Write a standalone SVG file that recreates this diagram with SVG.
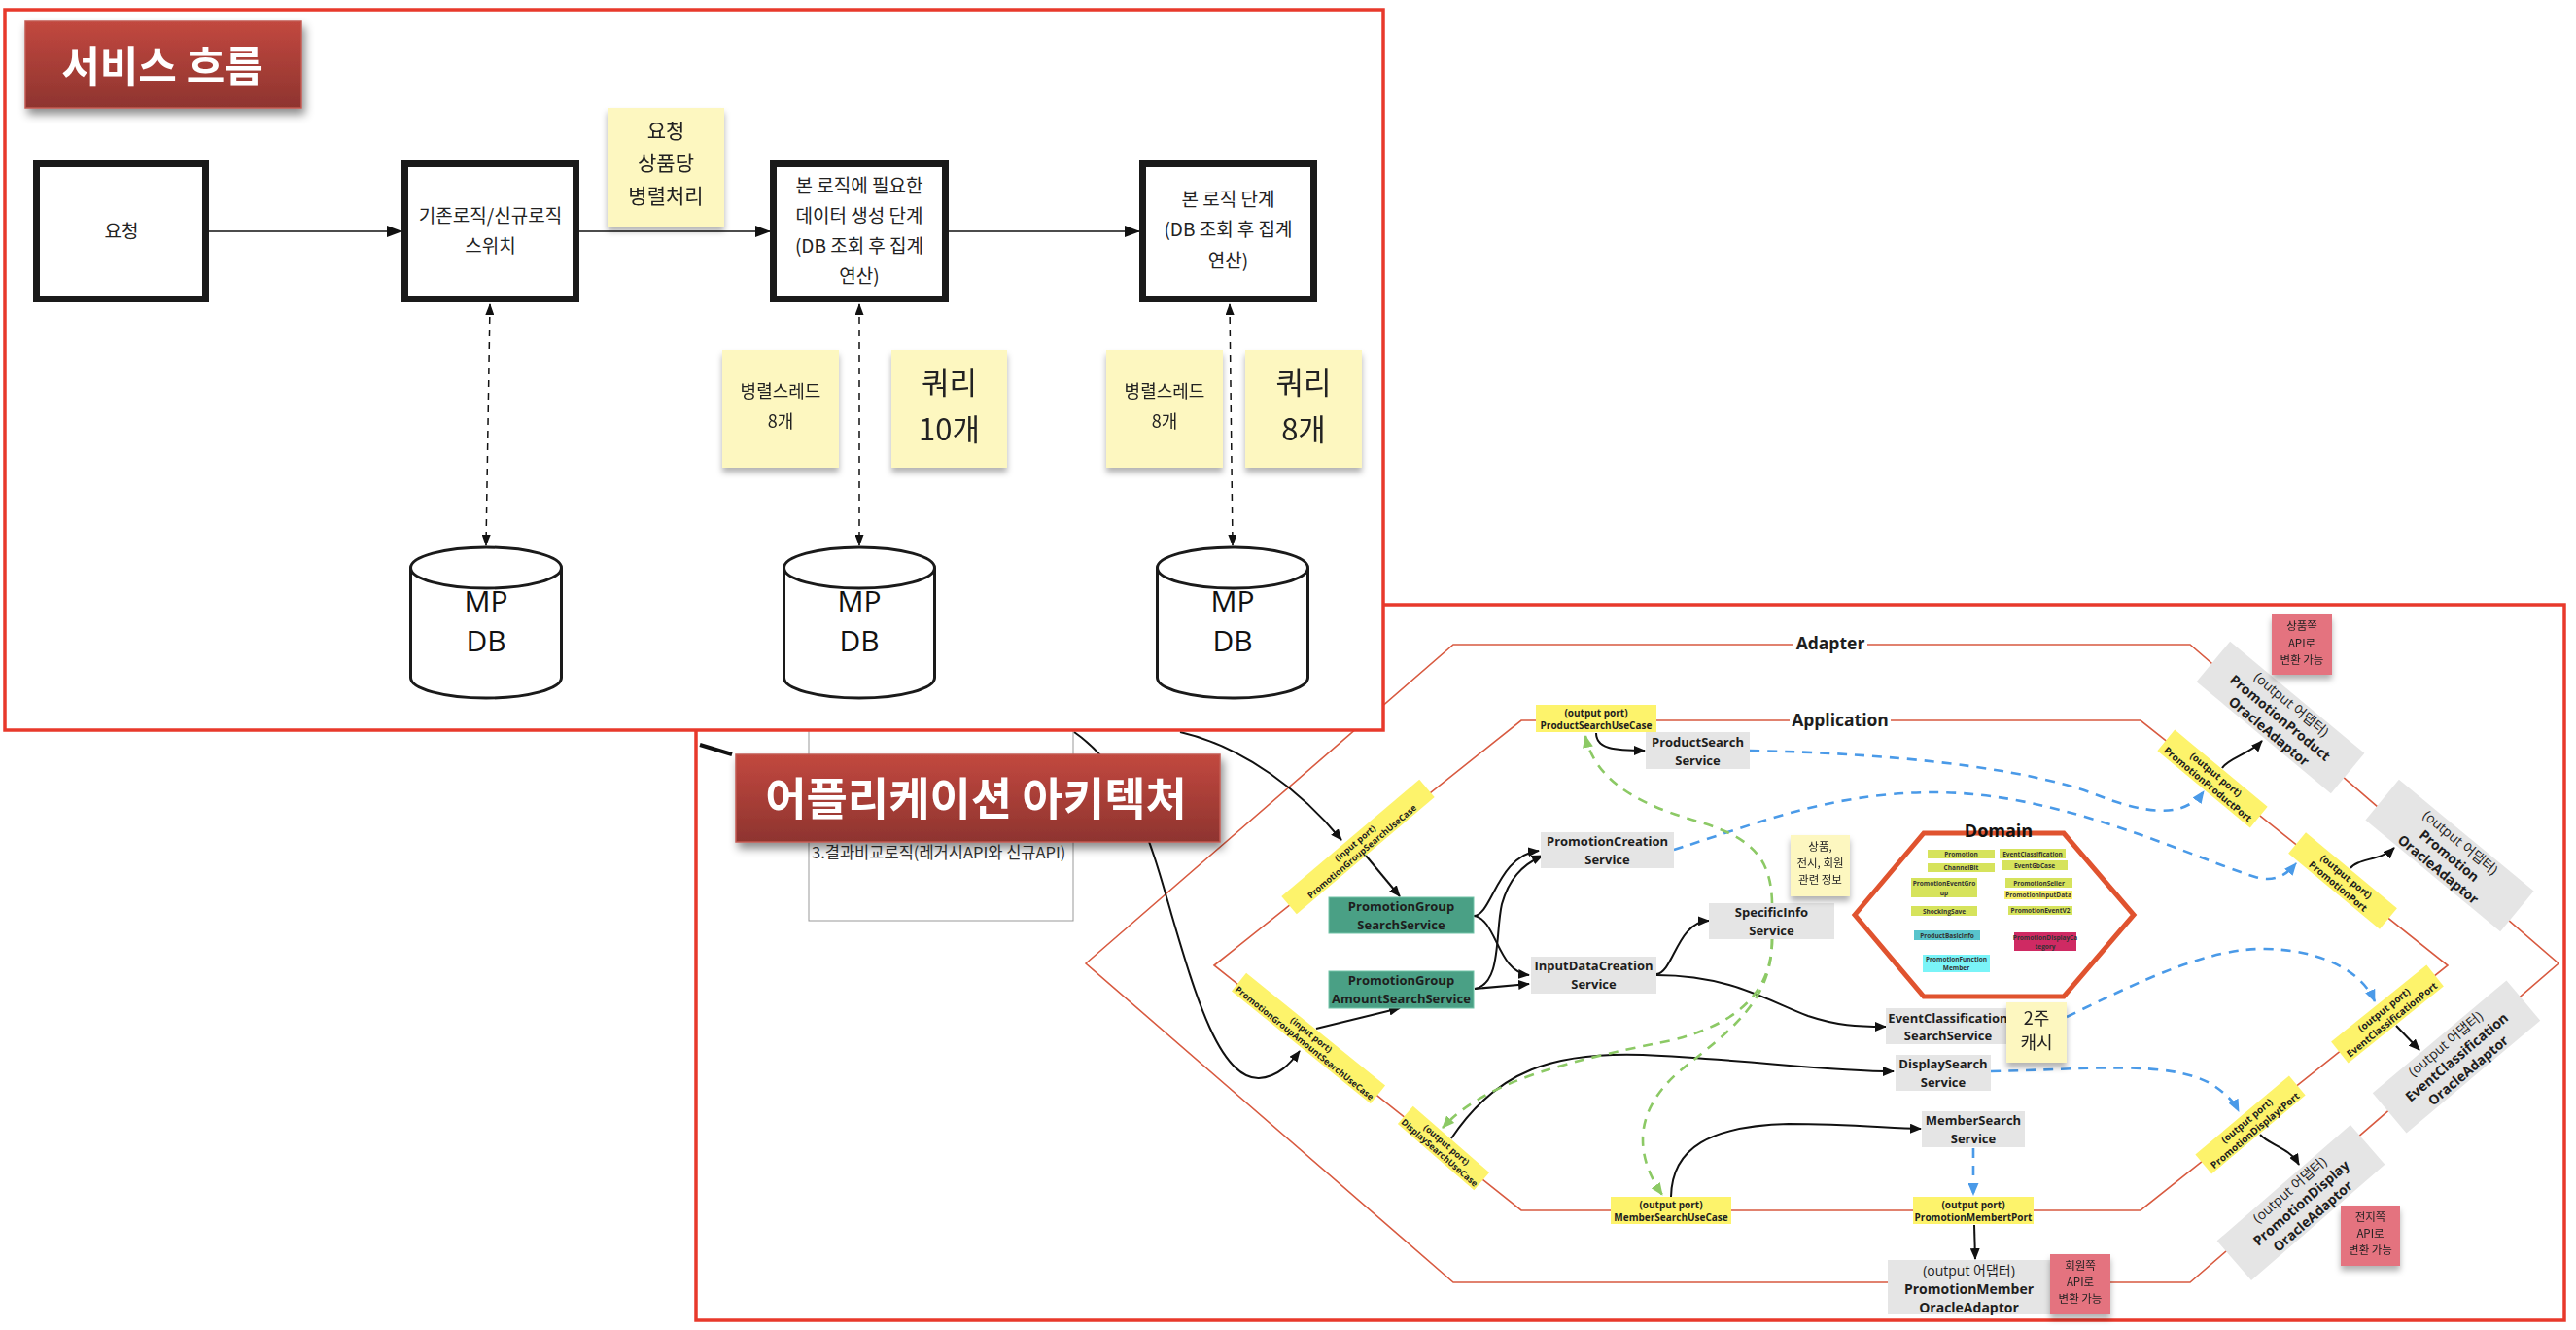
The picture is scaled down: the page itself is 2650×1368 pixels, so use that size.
<svg xmlns="http://www.w3.org/2000/svg" width="2650" height="1368" viewBox="0 0 2650 1368">
<defs>
<style>
.frame{fill:#fff;stroke:#e8392b;stroke-width:3.5}
.hex{fill:none;stroke:#d85a40;stroke-width:1.6}
.box{fill:#fff;stroke:#1a1a1a;stroke-width:7}
.cyl{fill:#fff;stroke:#1a1a1a;stroke-width:3}
.kr{font-family:'Noto Sans CJK KR','Noto Sans',sans-serif;fill:#222;text-anchor:middle;dominant-baseline:central}
.en{font-family:'Open Sans','Noto Sans CJK KR',sans-serif;fill:#1e1e1e;text-anchor:middle;dominant-baseline:central}
.b{font-weight:bold}
.sticky{fill:#fdf7c0}
.pink{fill:#e4737f}
.port{fill:#fdf36b}
.svc{fill:#e5e5e5}
.teal{fill:#4aa085;stroke:#72c4a8;stroke-width:1}
.ln{fill:none;stroke:#111;stroke-width:2}
.lnT{fill:none;stroke:#111;stroke-width:1.6}
.dv{fill:none;stroke:#111;stroke-width:1.5;stroke-dasharray:7 6}
.blue{fill:none;stroke:#4a9ae8;stroke-width:2.6;stroke-dasharray:10 8}
.green{fill:none;stroke:#8cc965;stroke-width:2.6;stroke-dasharray:10 8}
.dom{stroke:none}
.tiny{font-family:'Open Sans',sans-serif;font-weight:bold;font-size:6.5px;fill:#333;text-anchor:middle;dominant-baseline:central}
</style>
<linearGradient id="tg" x1="0" y1="0" x2="0" y2="1">
<stop offset="0" stop-color="#c2483f"/>
<stop offset="1" stop-color="#8e342f"/>
</linearGradient>
<filter id="sh" x="-20%" y="-20%" width="150%" height="160%">
<feDropShadow dx="3" dy="6" stdDeviation="5" flood-color="#000" flood-opacity="0.45"/>
</filter>
<filter id="ssh" x="-10%" y="-10%" width="120%" height="130%">
<feDropShadow dx="0" dy="5" stdDeviation="3" flood-color="#000" flood-opacity="0.3"/>
</filter>
<marker id="ah" viewBox="0 0 12 10" refX="11" refY="5" markerWidth="12" markerHeight="10" markerUnits="userSpaceOnUse" orient="auto"><path d="M0,0 L12,5 L0,10 Z" fill="#111"/></marker>
<marker id="ahL" viewBox="0 0 16 12" refX="15" refY="6" markerWidth="16" markerHeight="12" markerUnits="userSpaceOnUse" orient="auto"><path d="M0,0 L16,6 L0,12 Z" fill="#111"/></marker>
<marker id="ahD" viewBox="0 0 12 9" refX="11" refY="4.5" markerWidth="12" markerHeight="9" markerUnits="userSpaceOnUse" orient="auto-start-reverse"><path d="M0,0 L12,4.5 L0,9 Z" fill="#111"/></marker>
<marker id="ahB" viewBox="0 0 13 11" refX="12" refY="5.5" markerWidth="13" markerHeight="11" markerUnits="userSpaceOnUse" orient="auto"><path d="M0,0 L13,5.5 L0,11 Z" fill="#4a9ae8"/></marker>
<marker id="ahG" viewBox="0 0 13 11" refX="12" refY="5.5" markerWidth="13" markerHeight="11" markerUnits="userSpaceOnUse" orient="auto"><path d="M0,0 L13,5.5 L0,11 Z" fill="#8cc965"/></marker>
</defs>

<!-- ===== Application architecture frame ===== -->
<g id="arch-frame">
<rect class="frame" x="716" y="622" width="1922" height="736"/>
<rect x="832" y="700" width="272" height="247" fill="#fff" stroke="#999" stroke-width="1"/>
<text x="835" y="876" font-family="'Noto Sans CJK KR',sans-serif" font-size="16.5" fill="#333" dominant-baseline="central">3.결과비교로직(레거시API와 신규API)</text>
<line x1="720" y1="766" x2="753" y2="776" stroke="#111" stroke-width="4"/>
</g>

<g id="hexagons">
<polygon class="hex" points="1117,991 1495,663 2253,663 2632,991 2253,1319 1495,1319"/>
<polygon class="hex" points="1249,993 1565,741 2202,741 2518,993 2202,1245 1565,1245"/>
<rect x="1845" y="650" width="76" height="24" fill="#fff"/>
<text x="1883" y="668" font-family="'Open Sans',sans-serif" font-weight="bold" font-size="17.5" fill="#1e1e1e" text-anchor="middle">Adapter</text>
<rect x="1841" y="729" width="104" height="24" fill="#fff"/>
<text x="1893" y="747" font-family="'Open Sans',sans-serif" font-weight="bold" font-size="17.5" fill="#1e1e1e" text-anchor="middle">Application</text>
</g>

<g id="connectors">
<path class="ln" d="M1214,753 C1280,768 1340,815 1380,864" marker-end="url(#ah)"/>
<path class="ln" d="M1105,753 C1165,795 1185,870 1205,940 C1230,1025 1255,1110 1295,1109 C1315,1108 1328,1093 1337,1081" marker-end="url(#ah)"/>
<path class="ln" d="M1405,880 L1440,922" marker-end="url(#ah)"/>
<path class="ln" d="M1354,1058 L1440,1037" marker-end="url(#ah)"/>
<path class="ln" d="M1516,942 C1535,942 1540,880 1583,875" marker-end="url(#ah)"/>
<path class="ln" d="M1516,942 C1540,945 1540,1000 1573,1003" marker-end="url(#ah)"/>
<path class="ln" d="M1517,1017 C1545,1012 1538,960 1545,930 C1552,905 1565,890 1587,880" marker-end="url(#ah)"/>
<path class="ln" d="M1517,1017 L1573,1012" marker-end="url(#ah)"/>
<path class="ln" d="M1642,754 C1642,770 1660,772 1692,772" marker-end="url(#ah)"/>
<path class="ln" d="M1704,1002 C1722,1000 1725,948 1758,947" marker-end="url(#ah)"/>
<path class="ln" d="M1704,1003 C1780,1003 1820,1030 1860,1045 C1890,1055 1910,1056 1940,1056" marker-end="url(#ah)"/>
<path class="ln" d="M1493,1171 C1540,1100 1600,1082 1690,1085 C1800,1090 1880,1102 1948,1102" marker-end="url(#ah)"/>
<path class="ln" d="M1719,1231 C1720,1180 1760,1158 1840,1156 C1900,1156 1940,1160 1976,1161" marker-end="url(#ah)"/>
<path class="ln" d="M2031,1260 L2032,1295" marker-end="url(#ah)"/>
<path class="ln" d="M2286,790 C2292,780 2315,775 2327,762" marker-end="url(#ah)"/>
<path class="ln" d="M2418,893 C2425,883 2450,885 2463,872" marker-end="url(#ah)"/>
<path class="ln" d="M2465,1055 L2489,1080" marker-end="url(#ah)"/>
<path class="ln" d="M2325,1167 C2335,1178 2355,1180 2365,1198" marker-end="url(#ah)"/>
<path class="blue" d="M1800,772 C1950,775 2080,790 2150,815 C2200,835 2245,845 2267,814" marker-end="url(#ahB)"/>
<path class="blue" d="M1722,874 C1800,850 1880,815 1990,815 C2120,815 2250,880 2320,902 C2340,908 2352,900 2362,888" marker-end="url(#ahB)"/>
<path class="blue" d="M2126,1046 C2200,1010 2270,975 2330,976 C2390,977 2430,1000 2443,1030" marker-end="url(#ahB)"/>
<path class="blue" d="M2048,1102 C2150,1100 2230,1090 2275,1115 C2290,1125 2298,1133 2303,1143" marker-end="url(#ahB)"/>
<path class="blue" d="M2030,1181 L2030,1229" marker-end="url(#ahB)"/>
<path class="green" d="M1823,929 C1822,880 1800,860 1740,843 C1680,825 1640,800 1631,757" marker-end="url(#ahG)"/>
<path class="green" d="M1823,966 C1823,1010 1800,1050 1720,1070 C1620,1090 1530,1110 1484,1160" marker-end="url(#ahG)"/>
<path class="green" d="M1823,966 C1823,1030 1780,1060 1730,1100 C1670,1150 1690,1200 1710,1229" marker-end="url(#ahG)"/>
</g>

<!-- ports -->
<g id="port-input-search" transform="translate(1397,871) rotate(-40.3)">
<rect class="port" x="-93" y="-12" width="186" height="24"/>
<text class="en b" y="-5" font-size="9">(input port)</text>
<text class="en b" y="6" font-size="9">PromotionGroupSearchUseCase</text>
</g>
<g id="port-input-amount" transform="translate(1346,1068) rotate(39)">
<rect class="port" x="-92" y="-12" width="184" height="24"/>
<text class="en b" y="-5" font-size="9">(input port)</text>
<text class="en b" y="6" font-size="9">PromotionGroupAmountSearchUseCase</text>
</g>
<g id="port-display-usecase" transform="translate(1485,1181) rotate(41)">
<rect class="port" x="-52" y="-12" width="104" height="24"/>
<text class="en b" y="-5" font-size="9">(output port)</text>
<text class="en b" y="6" font-size="9">DisplaySearchUseCase</text>
</g>
<g id="port-product-usecase">
<rect class="port" x="1580" y="725" width="124" height="28"/>
<text class="en b" x="1642" y="733" font-size="10">(output port)</text>
<text class="en b" x="1642" y="746" font-size="10">ProductSearchUseCase</text>
</g>
<g id="port-member-usecase">
<rect class="port" x="1657" y="1231" width="124" height="28"/>
<text class="en b" x="1719" y="1239" font-size="10">(output port)</text>
<text class="en b" x="1719" y="1252" font-size="10">MemberSearchUseCase</text>
</g>
<g id="port-member">
<rect class="port" x="1968" y="1231" width="124" height="28"/>
<text class="en b" x="2030" y="1239" font-size="10">(output port)</text>
<text class="en b" x="2030" y="1252" font-size="10">PromotionMembertPort</text>
</g>
<g id="port-product" transform="translate(2276,801) rotate(39.7)">
<rect class="port" x="-62" y="-14" width="124" height="28"/>
<text class="en b" y="-6" font-size="10">(output port)</text>
<text class="en b" y="7" font-size="10">PromotionProductPort</text>
</g>
<g id="port-promotion" transform="translate(2410,906) rotate(39.7)">
<rect class="port" x="-61" y="-14" width="122" height="28"/>
<text class="en b" y="-6" font-size="10">(output port)</text>
<text class="en b" y="7" font-size="10">PromotionPort</text>
</g>
<g id="port-eventclass" transform="translate(2456,1043) rotate(-38.8)">
<rect class="port" x="-63" y="-14" width="126" height="28"/>
<text class="en b" y="-6" font-size="10">(output port)</text>
<text class="en b" y="7" font-size="10">EventClassificationPort</text>
</g>
<g id="port-display" transform="translate(2315,1157) rotate(-40)">
<rect class="port" x="-63" y="-13" width="126" height="26"/>
<text class="en b" y="-6" font-size="10">(output port)</text>
<text class="en b" y="7" font-size="10">PromotionDisplaytPort</text>
</g>

<!-- services -->
<g id="svc-group-search">
<rect class="teal" x="1367" y="923" width="149" height="37"/>
<text class="en b" x="1441.5" y="932" font-size="13">PromotionGroup</text>
<text class="en b" x="1441.5" y="951" font-size="13">SearchService</text>
</g>
<g id="svc-group-amount">
<rect class="teal" x="1367" y="999" width="149" height="38"/>
<text class="en b" x="1441.5" y="1008" font-size="13">PromotionGroup</text>
<text class="en b" x="1441.5" y="1027" font-size="13">AmountSearchService</text>
</g>
<g id="svc-product">
<rect class="svc" x="1693" y="753" width="107" height="38"/>
<text class="en b" x="1746.5" y="763" font-size="13">ProductSearch</text>
<text class="en b" x="1746.5" y="782" font-size="13">Service</text>
</g>
<g id="svc-creation">
<rect class="svc" x="1585" y="856" width="137" height="37"/>
<text class="en b" x="1653.5" y="865" font-size="13">PromotionCreation</text>
<text class="en b" x="1653.5" y="884" font-size="13">Service</text>
</g>
<g id="svc-specific">
<rect class="svc" x="1758" y="929" width="129" height="37"/>
<text class="en b" x="1822.5" y="938" font-size="13">SpecificInfo</text>
<text class="en b" x="1822.5" y="957" font-size="13">Service</text>
</g>
<g id="svc-input">
<rect class="svc" x="1575" y="984" width="129" height="38"/>
<text class="en b" x="1639.5" y="993" font-size="13">InputDataCreation</text>
<text class="en b" x="1639.5" y="1012" font-size="13">Service</text>
</g>
<g id="svc-eventclass">
<rect class="svc" x="1940" y="1037" width="124" height="37"/>
<text class="en b" x="2004" y="1047" font-size="13">EventClassification</text>
<text class="en b" x="2004" y="1065" font-size="13">SearchService</text>
</g>
<g id="svc-display">
<rect class="svc" x="1950" y="1085" width="98" height="37"/>
<text class="en b" x="1999" y="1094" font-size="13">DisplaySearch</text>
<text class="en b" x="1999" y="1113" font-size="13">Service</text>
</g>
<g id="svc-member">
<rect class="svc" x="1977" y="1143" width="106" height="37"/>
<text class="en b" x="2030" y="1152" font-size="13">MemberSearch</text>
<text class="en b" x="2030" y="1171" font-size="13">Service</text>
</g>

<!-- domain -->
<g id="domain">
<polygon points="1908,941 1979,857 2123,857 2195,941 2123,1025 1979,1025" fill="#fff" stroke="#e0532f" stroke-width="5"/>
<text x="2056" y="861" font-family="'Open Sans',sans-serif" font-weight="bold" font-size="18" fill="#111" text-anchor="middle">Domain</text>
<rect class="dom" x="1983" y="874" width="69" height="9" fill="#d6e35c"/><text class="tiny" x="2017.5" y="878.5">Promotion</text>
<rect class="dom" x="2057" y="873" width="68" height="10" fill="#d6e35c"/><text class="tiny" x="2091" y="878">EventClassification</text>
<rect class="dom" x="1983" y="888" width="69" height="9" fill="#d6e35c"/><text class="tiny" x="2017.5" y="892.5">ChannelBit</text>
<rect class="dom" x="2059" y="885" width="68" height="10" fill="#d6e35c"/><text class="tiny" x="2093" y="890">EventGbCase</text>
<rect class="dom" x="1966" y="903" width="68" height="20" fill="#d6e35c"/><text class="tiny" x="2000" y="908">PromotionEventGro</text><text class="tiny" x="2000" y="918">up</text>
<rect class="dom" x="2063" y="903" width="69" height="10" fill="#d6e35c"/><text class="tiny" x="2097.5" y="908">PromotionSeller</text>
<rect class="dom" x="2062" y="916" width="70" height="9" fill="#f7ef6a"/><text class="tiny" x="2097" y="920.5">PromotionInputData</text>
<rect class="dom" x="1966" y="932" width="68" height="10" fill="#d6e35c"/><text class="tiny" x="2000" y="937">ShockingSave</text>
<rect class="dom" x="2066" y="932" width="66" height="9" fill="#d6e35c"/><text class="tiny" x="2099" y="936.5">PromotionEventV2</text>
<rect class="dom" x="1969" y="957" width="68" height="10" fill="#58c4cc"/><text class="tiny" x="2003" y="962">ProductBasicInfo</text>
<rect class="dom" x="2072" y="959" width="64" height="19" fill="#cf2a63"/><text class="tiny" x="2104" y="964" fill="#3a0a18">PromotionDisplayCa</text><text class="tiny" x="2104" y="973.5" fill="#3a0a18">tegory</text>
<rect class="dom" x="1978" y="982" width="69" height="18" fill="#7af4f8"/><text class="tiny" x="2012.5" y="986.5">PromotionFunction</text><text class="tiny" x="2012.5" y="995.5">Member</text>
</g>

<!-- adaptors -->
<g id="adp-product" transform="translate(2346,738) rotate(39.8)">
<rect class="svc" x="-90" y="-27" width="180" height="54"/>
<text class="en" y="-18" font-size="14">(output 어댑터)</text>
<text class="en b" y="0" font-size="14">PromotionProduct</text>
<text class="en b" y="18" font-size="14">OracleAdaptor</text>
</g>
<g id="adp-promotion" transform="translate(2520,880) rotate(39.6)">
<rect class="svc" x="-90" y="-27" width="180" height="54"/>
<text class="en" y="-18" font-size="14">(output 어댑터)</text>
<text class="en b" y="0" font-size="14">Promotion</text>
<text class="en b" y="18" font-size="14">OracleAdaptor</text>
</g>
<g id="adp-eventclass" transform="translate(2527,1087) rotate(-40.1)">
<rect class="svc" x="-90" y="-27" width="180" height="54"/>
<text class="en" y="-18" font-size="14">(output 어댑터)</text>
<text class="en b" y="0" font-size="14">EventClassification</text>
<text class="en b" y="18" font-size="14">OracleAdaptor</text>
</g>
<g id="adp-display" transform="translate(2367,1237) rotate(-41)">
<rect class="svc" x="-91" y="-27" width="182" height="54"/>
<text class="en" y="-18" font-size="14">(output 어댑터)</text>
<text class="en b" y="0" font-size="14">PromotionDisplay</text>
<text class="en b" y="18" font-size="14">OracleAdaptor</text>
</g>
<g id="adp-member">
<rect class="svc" x="1942" y="1296" width="167" height="56"/>
<text class="en" x="2025.5" y="1306" font-size="14">(output 어댑터)</text>
<text class="en b" x="2025.5" y="1325" font-size="14">PromotionMember</text>
<text class="en b" x="2025.5" y="1344" font-size="14">OracleAdaptor</text>
</g>

<!-- arch stickies -->
<g id="note-info" filter="url(#ssh)">
<rect class="sticky" x="1842" y="859" width="61" height="63"/>
<text class="kr" x="1872.5" y="870" font-size="11.5">상품,</text>
<text class="kr" x="1872.5" y="887" font-size="11.5">전시, 회원</text>
<text class="kr" x="1872.5" y="904" font-size="11.5">관련 정보</text>
</g>
<g id="note-cache" filter="url(#ssh)">
<rect class="sticky" x="2064" y="1031" width="62" height="62"/>
<text class="kr" x="2095" y="1046" font-size="18">2주</text>
<text class="kr" x="2095" y="1071" font-size="18">캐시</text>
</g>
<g id="note-product-api" filter="url(#ssh)">
<rect class="pink" x="2337" y="632" width="62" height="62"/>
<text class="kr" x="2368" y="643" font-size="11.5">상품쪽</text>
<text class="kr" x="2368" y="661" font-size="11.5">API로</text>
<text class="kr" x="2368" y="678" font-size="11.5">변환 가능</text>
</g>
<g id="note-display-api" filter="url(#ssh)">
<rect class="pink" x="2408" y="1240" width="61" height="62"/>
<text class="kr" x="2438.5" y="1251" font-size="11.5">전지쪽</text>
<text class="kr" x="2438.5" y="1268" font-size="11.5">API로</text>
<text class="kr" x="2438.5" y="1285" font-size="11.5">변환 가능</text>
</g>
<g id="note-member-api" filter="url(#ssh)">
<rect class="pink" x="2109" y="1290" width="62" height="62"/>
<text class="kr" x="2140" y="1301" font-size="11.5">회원쪽</text>
<text class="kr" x="2140" y="1318" font-size="11.5">API로</text>
<text class="kr" x="2140" y="1335" font-size="11.5">변환 가능</text>
</g>

<g id="title-arch" filter="url(#sh)">
<rect x="757" y="776" width="498" height="90" fill="url(#tg)" stroke="#c25a51" stroke-width="1.5"/>
<text x="1004" y="818" font-family="'Noto Sans CJK KR',sans-serif" font-weight="bold" font-size="46" fill="#fff" text-anchor="middle" dominant-baseline="central">어플리케이션 아키텍처</text>
</g>

<!-- ===== Service flow frame ===== -->
<g id="flow-frame">
<rect class="frame" x="5" y="10" width="1418" height="741"/>
</g>
<g id="title-flow" filter="url(#sh)">
<rect x="26" y="22" width="284" height="89" fill="url(#tg)" stroke="#c25a51" stroke-width="1.5"/>
<text x="167" y="65" font-family="'Noto Sans CJK KR',sans-serif" font-weight="bold" font-size="43" fill="#fff" text-anchor="middle" dominant-baseline="central">서비스 흐름</text>
</g>

<g id="flow-connectors">
<path class="lnT" d="M215,238 L413,238" marker-end="url(#ahL)"/>
<path class="lnT" d="M596,238 L792,238" marker-end="url(#ahL)"/>
<path class="lnT" d="M976,238 L1172,238" marker-end="url(#ahL)"/>
<path class="dv" d="M504,313 L500,561" marker-start="url(#ahD)" marker-end="url(#ahD)"/>
<path class="dv" d="M884,313 L884,561" marker-start="url(#ahD)" marker-end="url(#ahD)"/>
<path class="dv" d="M1265,313 L1268,561" marker-start="url(#ahD)" marker-end="url(#ahD)"/>
</g>

<g id="node-request">
<rect class="box" x="37.5" y="168.5" width="174" height="139"/>
<text class="kr" x="125" y="236" font-size="19">요청</text>
</g>
<g id="node-switch">
<rect class="box" x="416.5" y="168.5" width="176" height="139"/>
<text class="kr" x="504.5" y="220" font-size="19">기존로직/신규로직</text>
<text class="kr" x="504.5" y="251" font-size="19">스위치</text>
</g>
<g id="node-prep">
<rect class="box" x="795.5" y="168.5" width="177" height="139"/>
<text class="kr" x="884" y="189" font-size="19">본 로직에 필요한</text>
<text class="kr" x="884" y="220" font-size="19">데이터 생성 단계</text>
<text class="kr" x="884" y="251" font-size="19">(DB 조회 후 집계</text>
<text class="kr" x="884" y="282" font-size="19">연산)</text>
</g>
<g id="node-main">
<rect class="box" x="1175.5" y="168.5" width="176" height="139"/>
<text class="kr" x="1263.5" y="203" font-size="19">본 로직 단계</text>
<text class="kr" x="1263.5" y="234" font-size="19">(DB 조회 후 집계</text>
<text class="kr" x="1263.5" y="266" font-size="19">연산)</text>
</g>

<g id="note-parallel" filter="url(#ssh)">
<rect class="sticky" x="625" y="111" width="120" height="122"/>
<text class="kr" x="685" y="133" font-size="21">요청</text>
<text class="kr" x="685" y="166" font-size="21">상품당</text>
<text class="kr" x="685" y="200" font-size="21">병렬처리</text>
</g>
<g id="note-thread1" filter="url(#ssh)">
<rect class="sticky" x="743" y="360" width="120" height="121"/>
<text class="kr" x="803" y="401" font-size="18">병렬스레드</text>
<text class="kr" x="803" y="432" font-size="18">8개</text>
</g>
<g id="note-query1" filter="url(#ssh)">
<rect class="sticky" x="917" y="360" width="119" height="121"/>
<text class="kr" x="976.5" y="391" font-size="31">쿼리</text>
<text class="kr" x="976.5" y="439" font-size="31">10개</text>
</g>
<g id="note-thread2" filter="url(#ssh)">
<rect class="sticky" x="1138" y="360" width="120" height="121"/>
<text class="kr" x="1198" y="401" font-size="18">병렬스레드</text>
<text class="kr" x="1198" y="432" font-size="18">8개</text>
</g>
<g id="note-query2" filter="url(#ssh)">
<rect class="sticky" x="1281" y="360" width="120" height="121"/>
<text class="kr" x="1341" y="391" font-size="31">쿼리</text>
<text class="kr" x="1341" y="439" font-size="31">8개</text>
</g>

<g id="db1">
<path class="cyl" d="M422.5,584 L422.5,697 A77.5,21 0 0 0 577.5,697 L577.5,584 A77.5,21 0 0 0 422.5,584 Z"/>
<path class="cyl" d="M422.5,584 A77.5,21 0 0 0 577.5,584" fill="none"/>
<text x="500" y="629" font-family="'Open Sans',sans-serif" font-size="30" fill="#111" text-anchor="middle">MP</text>
<text x="500" y="670" font-family="'Open Sans',sans-serif" font-size="30" fill="#111" text-anchor="middle">DB</text>
</g>
<g id="db2">
<path class="cyl" d="M806.5,584 L806.5,697 A77.5,21 0 0 0 961.5,697 L961.5,584 A77.5,21 0 0 0 806.5,584 Z"/>
<path class="cyl" d="M806.5,584 A77.5,21 0 0 0 961.5,584" fill="none"/>
<text x="884" y="629" font-family="'Open Sans',sans-serif" font-size="30" fill="#111" text-anchor="middle">MP</text>
<text x="884" y="670" font-family="'Open Sans',sans-serif" font-size="30" fill="#111" text-anchor="middle">DB</text>
</g>
<g id="db3">
<path class="cyl" d="M1190.5,584 L1190.5,697 A77.5,21 0 0 0 1345.5,697 L1345.5,584 A77.5,21 0 0 0 1190.5,584 Z"/>
<path class="cyl" d="M1190.5,584 A77.5,21 0 0 0 1345.5,584" fill="none"/>
<text x="1268" y="629" font-family="'Open Sans',sans-serif" font-size="30" fill="#111" text-anchor="middle">MP</text>
<text x="1268" y="670" font-family="'Open Sans',sans-serif" font-size="30" fill="#111" text-anchor="middle">DB</text>
</g>
</svg>
